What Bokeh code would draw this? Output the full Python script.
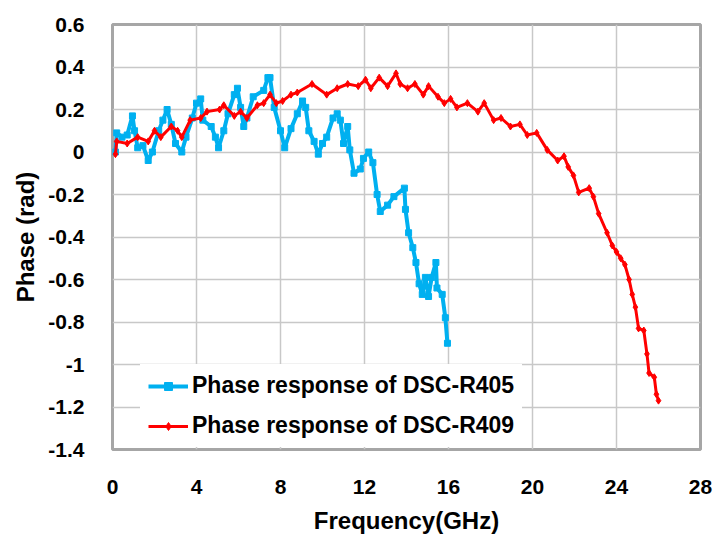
from bokeh.plotting import figure
from bokeh.models import FixedTicker, CustomJSTickFormatter, Legend, LegendItem, Range1d
from bokeh.embed import file_html
from bokeh.resources import INLINE

# ---- data ----
r405_freq = [0.14, 0.2, 0.45, 0.7, 0.95, 1.05, 1.2, 1.45, 1.7, 1.9, 2.2, 2.4, 2.6, 2.8, 3.0, 3.3, 3.5,
             3.8, 4.0, 4.2, 4.3, 4.7, 4.9, 5.05, 5.3, 5.5, 5.8, 5.95, 6.1, 6.25, 6.4, 6.7, 7.2, 7.4,
             7.5, 7.7, 8.0, 8.2, 8.5, 8.8, 9.05, 9.2, 9.35, 9.6, 9.8, 10.0, 10.2, 10.5, 10.7, 10.85,
             11.0, 11.2, 11.3, 11.5, 11.8, 11.95, 12.2, 12.4, 12.6, 12.75, 13.1, 13.4, 13.9, 13.95,
             14.1, 14.3, 14.45, 14.6, 14.75, 14.9, 15.05, 15.2, 15.4, 15.45, 15.7, 15.85, 15.95]
r405_phase = [0.0, 0.09, 0.07, 0.08, 0.17, 0.1, 0.02, 0.03, -0.04, 0.0, 0.1, 0.15, 0.2, 0.13, 0.04, 0.0,
              0.07, 0.16, 0.23, 0.25, 0.15, 0.12, 0.07, 0.02, 0.1, 0.18, 0.27, 0.3, 0.21, 0.12, 0.16,
              0.26, 0.29, 0.35, 0.35, 0.21, 0.1, 0.02, 0.11, 0.18, 0.24, 0.21, 0.1, 0.05, -0.01, 0.04,
              0.07, 0.16, 0.18, 0.15, 0.04, 0.12, 0.01, -0.1, -0.08, -0.03, 0.0, -0.05, -0.2, -0.28,
              -0.25, -0.21, -0.17, -0.27, -0.38, -0.45, -0.52, -0.62, -0.67, -0.59, -0.68, -0.59,
              -0.52, -0.64, -0.67, -0.78, -0.9]

r409_freq = [0.14, 0.2, 0.7, 1.2, 1.7, 2.0, 2.3, 2.8, 3.1, 3.3, 3.7, 4.2, 4.5, 5.1, 5.3, 5.8, 6.1, 6.4,
             6.9, 7.2, 7.5, 7.8, 8.1, 8.5, 8.8, 9.5, 10.2, 10.7, 11.2, 11.7, 12.05, 12.3, 12.7, 13.1,
             13.5, 13.7, 14.05, 14.4, 14.8, 15.05, 15.5, 15.8, 16.1, 16.4, 16.9, 17.4, 17.7, 18.15,
             18.5, 18.95, 19.4, 19.75, 20.2, 20.7, 21.2, 21.5, 21.7, 21.95, 22.2, 22.7, 22.9, 23.15,
             23.55, 23.8, 24.0, 24.2, 24.4, 24.6, 24.75, 24.9, 25.05, 25.3, 25.45, 25.55, 25.8, 25.9,
             26.0]
r409_phase = [-0.01, 0.05, 0.04, 0.07, 0.05, 0.1, 0.07, 0.12, 0.1, 0.07, 0.15, 0.16, 0.19, 0.2, 0.22,
              0.17, 0.19, 0.16, 0.22, 0.23, 0.27, 0.23, 0.24, 0.27, 0.28, 0.32, 0.27, 0.3, 0.32, 0.31,
              0.34, 0.3, 0.35, 0.31, 0.37, 0.32, 0.3, 0.32, 0.27, 0.31, 0.26, 0.23, 0.25, 0.21, 0.23,
              0.19, 0.23, 0.15, 0.16, 0.12, 0.13, 0.08, 0.09, 0.01, -0.04, -0.02, -0.07, -0.11, -0.19,
              -0.17, -0.21, -0.29, -0.38, -0.44, -0.47, -0.5, -0.53, -0.6, -0.67, -0.73, -0.83, -0.84,
              -0.95, -1.04, -1.06, -1.14, -1.17]

x_ticks = [0, 4, 8, 12, 16, 20, 24, 28]
y_ticks = [-1.4, -1.2, -1.0, -0.8, -0.6, -0.4, -0.2, 0.0, 0.2, 0.4, 0.6]
series_names = ["Phase response of DSC-R405", "Phase response of DSC-R409"]
x_title = "Frequency(GHz)"
y_title = "Phase (rad)"

FONT = "Liberation Sans"
BLUE = "#00b0f0"
RED = "#ff0000"

p = figure(width=718, height=548, output_backend="svg", toolbar_location=None,
           x_range=Range1d(x_ticks[0], x_ticks[-1]), y_range=Range1d(y_ticks[0], y_ticks[-1]),
           min_border_left=112, min_border_right=18, min_border_top=24, min_border_bottom=99)
p.background_fill_color = "white"
p.border_fill_color = "white"
p.outline_line_color = "#a6a6a6"
p.outline_line_width = 3

for ax in (p.xaxis[0], p.yaxis[0]):
    ax.axis_line_color = None
    ax.major_tick_line_color = None
    ax.minor_tick_line_color = None
    ax.major_label_text_font = FONT
    ax.major_label_text_font_style = "bold"
    ax.major_label_text_font_size = "21px"
    ax.major_label_text_color = "black"
    ax.axis_label_text_font = FONT
    ax.axis_label_text_font_style = "bold"
    ax.axis_label_text_font_size = "24px"
    ax.axis_label_text_color = "black"

p.xaxis.ticker = FixedTicker(ticks=x_ticks)
p.yaxis.ticker = FixedTicker(ticks=y_ticks)
p.xaxis.formatter = CustomJSTickFormatter(code="return Number(tick.toFixed(1)).toString();")
p.yaxis.formatter = CustomJSTickFormatter(code="return Number(tick.toFixed(1)).toString();")
p.xaxis.axis_label = x_title
p.yaxis.axis_label = y_title
p.xaxis.major_label_standoff = 24
p.xaxis.axis_label_standoff = 10
p.yaxis.major_label_standoff = 22
p.yaxis.axis_label_standoff = 6

p.xgrid.ticker = FixedTicker(ticks=x_ticks)
p.ygrid.ticker = FixedTicker(ticks=y_ticks)
p.grid.grid_line_color = "#c8c8c8"
p.grid.grid_line_width = 1.5

l1 = p.line(r405_freq, r405_phase, line_color=BLUE, line_width=4)
s1 = p.scatter(r405_freq, r405_phase, marker="square", size=6, fill_color=BLUE, line_color=BLUE)
l2 = p.line(r409_freq, r409_phase, line_color=RED, line_width=3)
s2 = p.scatter(r409_freq, r409_phase, marker="diamond", size=7, fill_color=RED, line_color=RED)

legend = Legend(items=[LegendItem(label=series_names[0], renderers=[l1, s1]),
                       LegendItem(label=series_names[1], renderers=[l2, s2])],
                location=(28, 2), orientation="vertical")
legend.label_text_font = FONT
legend.label_text_font_style = "bold"
legend.label_text_font_size = "23px"
legend.label_text_color = "black"
legend.glyph_width = 40
legend.glyph_height = 20
legend.label_standoff = 4
legend.spacing = 13
legend.padding = 8
legend.margin = 0
legend.border_line_alpha = 0
legend.background_fill_color = "white"
legend.background_fill_alpha = 1
p.add_layout(legend, "center")

open("out.html", "w").write(file_html(p, INLINE))
